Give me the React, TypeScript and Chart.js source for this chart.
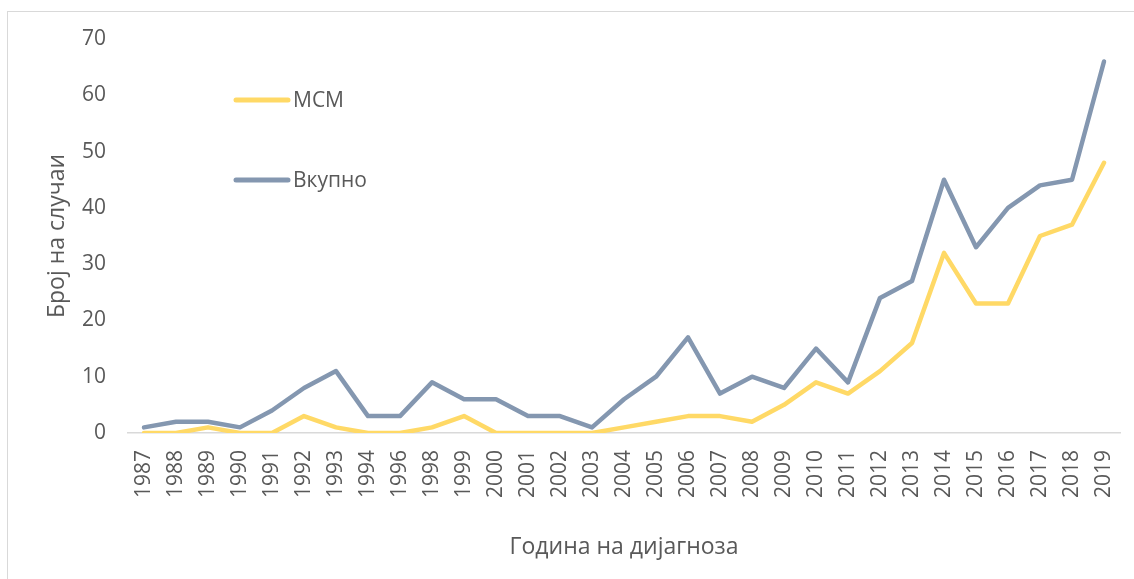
import React, { useEffect, useRef } from "react";
import { Chart, registerables } from "chart.js";

Chart.register(...registerables);

const categories = [
  "1987", "1988", "1989", "1990", "1991", "1992", "1993", "1994", "1996", "1998",
  "1999", "2000", "2001", "2002", "2003", "2004", "2005", "2006", "2007", "2008",
  "2009", "2010", "2011", "2012", "2013", "2014", "2015", "2016", "2017", "2018", "2019",
];

const msmValues = [
  0, 0, 1, 0, 0, 3, 1, 0, 0, 1,
  3, 0, 0, 0, 0, 1, 2, 3, 3, 2,
  5, 9, 7, 11, 16, 32, 23, 23, 35, 37, 48,
];

const totalValues = [
  1, 2, 2, 1, 4, 8, 11, 3, 3, 9,
  6, 6, 3, 3, 1, 6, 10, 17, 7, 10,
  8, 15, 9, 24, 27, 45, 33, 40, 44, 45, 66,
];

const seriesNames = ["МСМ", "Вкупно"];
const yTicks = [0, 10, 20, 30, 40, 50, 60, 70];

const FONT = "'Open Sans', 'Noto Sans', sans-serif";
const TEXT = "#595959";
const YELLOW = "#FFD966";
const BLUE = "#8497B0";

const legendPlugin = {
  id: "insideLegend",
  afterDraw(chart: any) {
    const ctx = chart.ctx;
    const items = [
      { y: 100, ds: chart.data.datasets[0] },
      { y: 180, ds: chart.data.datasets[1] },
    ];
    ctx.save();
    items.forEach((it) => {
      ctx.beginPath();
      ctx.strokeStyle = it.ds.borderColor;
      ctx.lineWidth = 5;
      ctx.lineCap = "round";
      ctx.moveTo(236, it.y);
      ctx.lineTo(288, it.y);
      ctx.stroke();
      ctx.fillStyle = TEXT;
      ctx.font = `21px ${FONT}`;
      ctx.textBaseline = "middle";
      ctx.textAlign = "left";
      ctx.fillText(it.ds.label, 293, it.y + 1);
    });
    ctx.restore();
  },
};

export default function App() {
  const ref = useRef<HTMLCanvasElement | null>(null);

  useEffect(() => {
    if (!ref.current) return;
    const chart = new Chart(ref.current, {
      type: "line",
      data: {
        labels: categories,
        datasets: [
          {
            label: seriesNames[0],
            data: msmValues,
            borderColor: YELLOW,
            backgroundColor: YELLOW,
            borderWidth: 4.5,
            pointRadius: 0,
            tension: 0,
            borderJoinStyle: "round",
            borderCapStyle: "round",
          },
          {
            label: seriesNames[1],
            data: totalValues,
            borderColor: BLUE,
            backgroundColor: BLUE,
            borderWidth: 4.5,
            pointRadius: 0,
            tension: 0,
            borderJoinStyle: "round",
            borderCapStyle: "round",
          },
        ],
      },
      options: {
        animation: false,
        responsive: false,
        maintainAspectRatio: false,
        layout: { padding: { top: 39, right: 14, left: 0, bottom: 0 } },
        plugins: {
          legend: { display: false },
          tooltip: { enabled: false },
        },
        scales: {
          x: {
            type: "category",
            offset: true,
            grid: { display: false, drawTicks: false },
            border: { display: true, color: "#d9d9d9", width: 1.5 },
            ticks: {
              autoSkip: false,
              maxRotation: 90,
              minRotation: 90,
              padding: 17,
              color: TEXT,
              font: { family: FONT, size: 21 },
            },
            title: {
              display: true,
              text: "Година на дијагноза",
              color: TEXT,
              font: { family: FONT, size: 23 },
              padding: { top: 0, bottom: 18 },
            },
            afterFit: (s: any) => {
              s.height = 146;
              s.paddingLeft = 0;
              s.paddingRight = 0;
            },
          },
          y: {
            min: 0,
            max: 70,
            afterBuildTicks: (s: any) => {
              s.ticks = yTicks.map((v) => ({ value: v }));
            },
            grid: { display: false, drawTicks: false },
            border: { display: false },
            ticks: {
              padding: 22,
              color: TEXT,
              font: { family: FONT, size: 21 },
            },
            title: {
              display: true,
              text: "Број на случаи",
              color: TEXT,
              font: { family: FONT, size: 23 },
              padding: { top: 44, bottom: 0 },
            },
            afterFit: (s: any) => {
              s.width = 128;
              s.paddingTop = 0;
              s.paddingBottom = 0;
            },
          },
        },
      },
      plugins: [legendPlugin],
    });
    return () => chart.destroy();
  }, []);

  return (
    <div
      style={{
        position: "fixed",
        left: 0,
        top: 0,
        width: 1134,
        height: 579,
        overflow: "hidden",
        background: "#fff",
      }}
    >
      <div
        style={{
          position: "absolute",
          left: 7,
          top: 11,
          width: 1200,
          height: 700,
          border: "1px solid #d9d9d9",
          boxSizing: "border-box",
        }}
      />
      <canvas
        ref={ref}
        width={1134}
        height={579}
        style={{ position: "absolute", left: 0, top: 0, width: 1134, height: 579 }}
      />
    </div>
  );
}
